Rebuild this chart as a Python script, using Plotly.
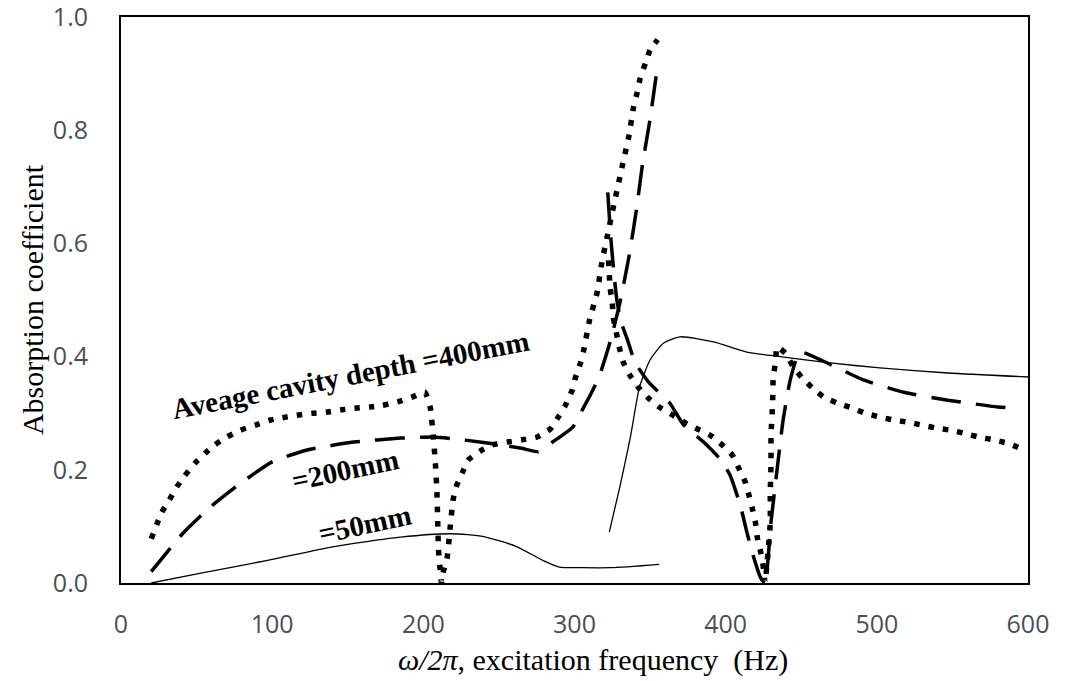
import plotly.graph_objects as go

# ---------------- data ----------------
# Average cavity depth = 400 mm (dotted), two computed frequency ranges
d400_a_x = [20, 27, 32, 37, 42, 49, 56, 62, 70, 79, 89, 99, 109, 118, 127, 136, 146, 156, 165, 173, 183, 193, 201,
            204.5, 206.5, 208, 209, 209.5, 210, 211, 212,
            213, 215.7, 217.7, 219.7, 221.7, 225.7, 229.6, 237.6, 245.5, 255.5, 265.4, 275.3, 284, 288.5, 294, 298.5,
            300.5, 304, 306, 310, 315, 318, 322, 326, 330, 332, 336, 339, 341.5, 343.5, 347, 350, 355]
d400_a_y = [0.078, 0.125, 0.147, 0.17, 0.189, 0.212, 0.23, 0.244, 0.258, 0.27, 0.279, 0.288, 0.293, 0.297, 0.3, 0.302,
            0.306, 0.309, 0.311, 0.314, 0.32, 0.329, 0.337,
            0.311, 0.261, 0.21, 0.16, 0.11, 0.06, 0.028, 0.0,
            0.018, 0.044, 0.097, 0.147, 0.17, 0.194, 0.217, 0.233, 0.244, 0.249, 0.253, 0.258, 0.272, 0.29, 0.314,
            0.341, 0.362, 0.389, 0.41, 0.465, 0.514, 0.565, 0.617, 0.668, 0.717, 0.742, 0.79, 0.84, 0.867, 0.892,
            0.919, 0.942, 0.96]
d400_b_x = [322.5, 323.6, 325, 325.6, 327.6, 329.6, 332.3, 336.2, 342.2, 348.8, 356, 364.7, 373.3, 379.9, 389.8, 397.7,
            404.4, 408.3, 413, 415, 417.6, 419.6, 420.9, 422.9, 424.9, 426,
            428, 429.5, 429.5, 430, 430, 431, 431.5, 433, 434, 439.5, 444.7, 450.7, 457.3, 464.6, 473.9, 483.8, 492.4,
            502.3, 511, 520.8, 530, 538.7, 548.6, 557.2, 567.2, 577, 586.4, 595]
d400_b_y = [0.57, 0.521, 0.495, 0.47, 0.443, 0.417, 0.39, 0.369, 0.346, 0.327, 0.311, 0.297, 0.283, 0.274, 0.261,
            0.244, 0.226, 0.205, 0.178, 0.159, 0.132, 0.108, 0.081, 0.058, 0.028, 0.0,
            0.053, 0.106, 0.159, 0.212, 0.261, 0.314, 0.364, 0.39, 0.417, 0.406, 0.382, 0.362, 0.345, 0.329, 0.318,
            0.309, 0.3, 0.293, 0.288, 0.284, 0.279, 0.274, 0.27, 0.265, 0.258, 0.253, 0.247, 0.238]

# Average cavity depth = 200 mm (dashed)
d200_a_x = [20, 41, 59, 79, 100, 123, 154, 185, 207, 229, 251, 265, 276, 286, 299, 306, 312, 317, 324, 330, 336, 341,
            345, 350, 355]
d200_a_y = [0.02, 0.088, 0.134, 0.176, 0.214, 0.235, 0.249, 0.256, 0.258, 0.252, 0.244, 0.238, 0.232, 0.25, 0.276,
            0.31, 0.34, 0.37, 0.43, 0.495, 0.576, 0.66, 0.74, 0.82, 0.915]
d200_b_x = [322, 324, 326, 328, 331, 335, 340, 349, 363, 372, 385, 396, 403, 410, 414, 418, 423, 426,
            430, 434, 438, 443, 449, 463, 491, 518, 547, 580, 592]
d200_b_y = [0.69, 0.61, 0.55, 0.5, 0.46, 0.43, 0.39, 0.355, 0.318, 0.28, 0.25, 0.22, 0.19, 0.134, 0.09, 0.05, 0.01,
            0.0, 0.108, 0.2, 0.288, 0.362, 0.408, 0.394, 0.359, 0.337, 0.323, 0.311, 0.309]

# Average cavity depth = 50 mm (solid)
d50_a_x = [20, 52, 97, 140, 185, 218, 240, 262, 279, 290, 304, 324, 356]
d50_a_y = [0.0, 0.017, 0.04, 0.064, 0.081, 0.087, 0.082, 0.064, 0.04, 0.028, 0.027, 0.027, 0.033]
d50_b_x = [323, 330, 337, 343, 350, 359, 370, 392, 414, 436, 469, 502, 547, 600]
d50_b_y = [0.09, 0.17, 0.258, 0.346, 0.394, 0.424, 0.435, 0.426, 0.408, 0.4, 0.389, 0.38, 0.371, 0.364]

x_ticks = [0, 100, 200, 300, 400, 500, 600]
y_ticks = [0.0, 0.2, 0.4, 0.6, 0.8, 1.0]

labels = ["Aveage cavity depth =400mm", "=200mm", "=50mm"]
label_x = [151.5, 148, 161.5]
label_y = [0.367, 0.2, 0.104]
label_angle = [-11, -12, -12]

# ---------------- figure ----------------
fig = go.Figure()

dot_line = dict(color="black", width=5.5, dash="5.5px,9px", shape="spline", smoothing=0.5)
dash_line = dict(color="black", width=3.5, dash="30px,15px", shape="spline", smoothing=0.5)
solid_line = dict(color="black", width=1.3, shape="spline", smoothing=0.6)

for xs, ys, ln in [
    (d400_a_x, d400_a_y, dot_line), (d400_b_x, d400_b_y, dot_line),
    (d200_a_x, d200_a_y, dash_line), (d200_b_x, d200_b_y, dash_line),
    (d50_a_x, d50_a_y, solid_line), (d50_b_x, d50_b_y, solid_line),
]:
    fig.add_trace(go.Scatter(x=xs, y=ys, mode="lines", line=ln, showlegend=False, hoverinfo="skip"))

serif = "Liberation Serif, Times New Roman, serif"
for t, lx, ly, ang in zip(labels, label_x, label_y, label_angle):
    fig.add_annotation(x=lx, y=ly, xref="x", yref="y", text="<b>%s</b>" % t, showarrow=False, textangle=ang,
                       font=dict(family=serif, size=29, color="black"))

fig.add_annotation(x=0.52, y=-0.136, xref="paper", yref="paper", xanchor="center", yanchor="middle",
                   text="<i>ω/2π</i>, excitation frequency  (Hz)", showarrow=False,
                   font=dict(family=serif, size=30, color="black"))
fig.add_annotation(x=-0.098, y=0.5, xref="paper", yref="paper", xanchor="center", yanchor="middle",
                   text="Absorption coefficient", showarrow=False, textangle=-90,
                   font=dict(family=serif, size=30, color="black"))

tick_font = dict(family="Open Sans, sans-serif", size=25, color="#4a4f57")
fig.update_layout(
    width=1068, height=681,
    margin=dict(l=121, r=40, t=17, b=98, autoexpand=False),
    paper_bgcolor="white", plot_bgcolor="white",
    xaxis=dict(range=[0, 600], tickvals=x_ticks, ticktext=[str(v) for v in x_ticks], automargin=False,
               showgrid=False, zeroline=False, showline=True, linecolor="black", linewidth=2, mirror=True,
               ticks="", ticklabelstandoff=18, ticklabeloverflow="allow", tickfont=tick_font),
    yaxis=dict(range=[0, 1.0], tickvals=y_ticks, ticktext=["%.1f" % v for v in y_ticks], automargin=False,
               showgrid=False, zeroline=False, showline=True, linecolor="black", linewidth=2, mirror=True,
               ticks="", ticklabelstandoff=26, ticklabeloverflow="allow", tickfont=tick_font),
)

fig.write_html("out.html", config={"displayModeBar": False},
               post_script="document.body.style.margin='0';")
